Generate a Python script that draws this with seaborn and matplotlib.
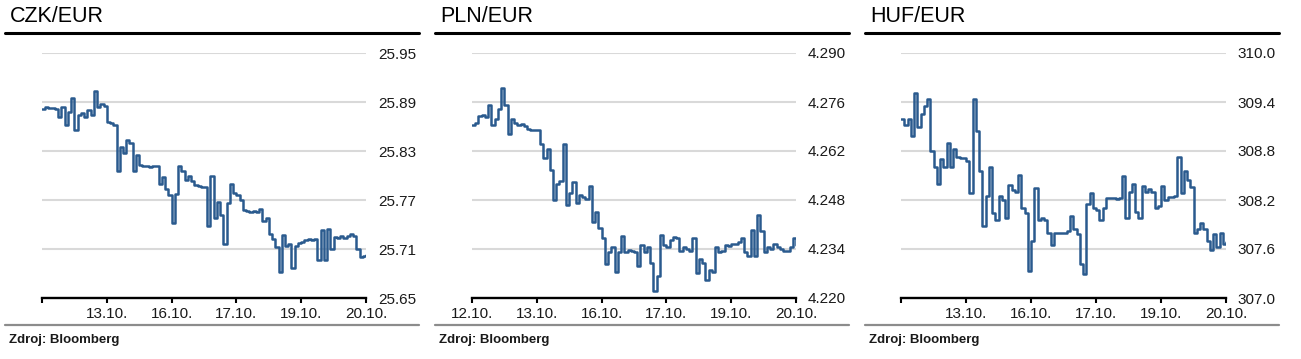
import numpy as np
import matplotlib
matplotlib.use("Agg")
import matplotlib.pyplot as plt
import seaborn as sns
from matplotlib.lines import Line2D

# ===========================
# Data (one value every 0.05 trading day)
# ===========================
czk = [25.882, 25.884, 25.883, 25.883, 25.882, 25.872, 25.884, 25.862, 25.878, 25.895,
       25.856, 25.874, 25.877, 25.872, 25.880, 25.874, 25.903, 25.884, 25.887, 25.885,
       25.866, 25.864, 25.862, 25.805, 25.835, 25.828, 25.844, 25.840, 25.806, 25.825,
       25.813, 25.812, 25.812, 25.811, 25.812, 25.812, 25.790, 25.798, 25.783, 25.776,
       25.742, 25.777, 25.812, 25.805, 25.795, 25.800, 25.793, 25.788, 25.787, 25.786,
       25.786, 25.738, 25.800, 25.748, 25.768, 25.752, 25.716, 25.766, 25.789, 25.778,
       25.776, 25.770, 25.758, 25.757, 25.755, 25.757, 25.755, 25.759, 25.744, 25.748,
       25.728, 25.722, 25.712, 25.682, 25.727, 25.714, 25.716, 25.687, 25.714, 25.717,
       25.719, 25.721, 25.722, 25.721, 25.722, 25.697, 25.733, 25.697, 25.735, 25.710,
       25.725, 25.724, 25.726, 25.723, 25.726, 25.728, 25.726, 25.710, 25.700, 25.702,
       25.703]

pln = [4.2695, 4.2700, 4.2720, 4.2722, 4.2718, 4.2750, 4.2695, 4.2712, 4.2740, 4.2800,
       4.2752, 4.2668, 4.2712, 4.2700, 4.2693, 4.2698, 4.2690, 4.2682, 4.2680, 4.2681,
       4.2679, 4.2640, 4.2600, 4.2625, 4.2565, 4.2480, 4.2525, 4.2535, 4.2640, 4.2465,
       4.2500, 4.2530, 4.2470, 4.2495, 4.2488, 4.2484, 4.2520, 4.2417, 4.2445, 4.2400,
       4.2372, 4.2297, 4.2330, 4.2345, 4.2273, 4.2330, 4.2378, 4.2330, 4.2338, 4.2335,
       4.2330, 4.2290, 4.2350, 4.2330, 4.2345, 4.2300, 4.2220, 4.2262, 4.2380, 4.2350,
       4.2345, 4.2365, 4.2375, 4.2372, 4.2335, 4.2345, 4.2340, 4.2335, 4.2370, 4.2270,
       4.2310, 4.2300, 4.2250, 4.2280, 4.2275, 4.2345, 4.2330, 4.2335, 4.2350, 4.2348,
       4.2355, 4.2355, 4.2360, 4.2370, 4.2330, 4.2320, 4.2395, 4.2320, 4.2436, 4.2390,
       4.2330, 4.2345, 4.2340, 4.2355, 4.2345, 4.2340, 4.2335, 4.2335, 4.2345, 4.2370,
       4.2350]

huf = [309.19, 309.12, 309.19, 308.98, 309.51, 309.10, 309.25, 309.35, 309.44, 308.80,
       308.61, 308.39, 308.70, 308.60, 308.90, 308.61, 308.82, 308.73, 308.72, 308.72,
       308.68, 308.28, 309.44, 309.05, 308.55, 307.88, 308.25, 308.61, 308.04, 307.96,
       308.25, 308.20, 307.98, 308.38, 308.32, 308.30, 308.51, 308.10, 308.04, 307.33,
       307.70, 308.35, 307.95, 307.98, 307.96, 307.80, 307.65, 307.80, 307.80, 307.80,
       307.80, 307.82, 308.00, 307.84, 307.78, 307.42, 307.29, 308.15, 308.29, 308.10,
       308.08, 307.96, 308.10, 308.22, 308.22, 308.23, 308.21, 308.22, 308.49, 307.98,
       308.30, 308.40, 308.05, 307.98, 308.37, 308.30, 308.33, 308.30, 308.10, 308.13,
       308.37, 308.20, 308.24, 308.24, 308.25, 308.73, 308.28, 308.55, 308.45, 308.36,
       307.80, 307.85, 307.92, 307.84, 307.70, 307.59, 307.78, 307.63, 307.80, 307.66,
       307.68]

day_labels = ["12.10.", "13.10.", "16.10.", "17.10.", "19.10.", "20.10."]
czk_ticks = [25.65, 25.71, 25.77, 25.83, 25.89, 25.95]
pln_ticks = [4.220, 4.234, 4.248, 4.262, 4.276, 4.290]
huf_ticks = [307.0, 307.6, 308.2, 308.8, 309.4, 310.0]

# ===========================
# Style
# ===========================
sns.set_theme(style="white")
plt.rcParams['font.family'] = ['Liberation Sans', 'DejaVu Sans']

W, H = 1301, 359
fig = plt.figure(figsize=(W / 100, H / 100), dpi=100)
line_color = "#2a5a8e"


def fx(px):
    return px / W


def fy(py):
    return 1 - py / H


# title, series, ticks, format, panel offset, axes left, axes width, first date shown
panels = [
    ("CZK/EUR", czk, czk_ticks, "{:.2f}", 0, 42, 324, False),
    ("PLN/EUR", pln, pln_ticks, "{:.3f}", 430, 472, 324, True),
    ("HUF/EUR", huf, huf_ticks, "{:.1f}", 860, 901, 325, False),
]

for title, series, yt, fmt, off, left, width, first_label in panels:
    ax = fig.add_axes([fx(left), fy(298), fx(width), (298 - 53) / H])
    t = np.arange(len(series)) * 0.05
    sns.lineplot(x=t, y=series, ax=ax, color=line_color, linewidth=1.8,
                 drawstyle="steps-post")

    ax.set_xlim(0, 5)
    ax.set_ylim(yt[0], yt[-1])
    ax.set_xticks(range(6))
    labels = list(day_labels)
    if not first_label:
        labels[0] = ""
    ax.set_xticklabels(labels)
    ax.set_yticks(yt)
    ax.set_yticklabels([fmt.format(v) for v in yt])
    ax.yaxis.tick_right()

    ax.yaxis.grid(True, color="#d9d9d9", linewidth=1.5)
    ax.xaxis.grid(False)
    for s in ["left", "right", "top"]:
        ax.spines[s].set_visible(False)
    ax.spines["bottom"].set_color("black")
    ax.spines["bottom"].set_linewidth(1.7)
    ax.tick_params(axis="x", direction="out", length=3.5, width=1.5,
                   color="black", pad=3, labelsize=11, labelcolor="#1a1a1a",
                   bottom=True)
    ax.tick_params(axis="y", length=0, pad=8.5, labelsize=11,
                   labelcolor="#1a1a1a")
    ax.set_xlabel("")
    ax.set_ylabel("")

    # header, rules and source note
    fig.text(fx(off + 10), fy(22), title, fontsize=15.5, color="black",
             va="baseline", ha="left")
    fig.add_artist(Line2D([fx(off + 5), fx(off + 419)], [fy(33), fy(33)],
                          color="black", linewidth=2.2))
    fig.add_artist(Line2D([fx(off + 5), fx(off + 419)], [fy(325), fy(325)],
                          color="#8c8c8c", linewidth=1.6))
    fig.text(fx(off + 9), fy(343), "Zdroj: Bloomberg", fontsize=9.5,
             fontweight="bold", color="#1a1a1a", va="baseline", ha="left")

fig.savefig("out.png", dpi=100)
